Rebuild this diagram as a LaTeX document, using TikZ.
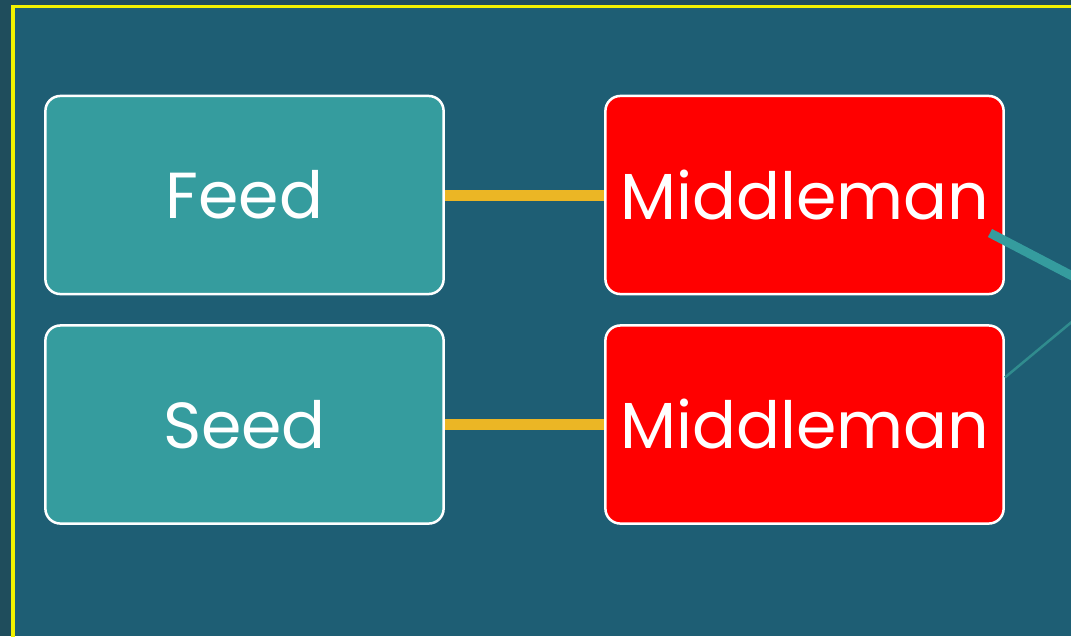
\documentclass[tikz,border=0pt]{standalone}
\usepackage{fontspec}
\setmainfont{Poppins}
\definecolor{slidebg}{HTML}{1E5E74}
\definecolor{outerbg}{HTML}{1F4D5C}
\definecolor{boxteal}{HTML}{359C9E}
\definecolor{linkgold}{HTML}{EBB625}
\definecolor{frameyellow}{HTML}{F2F200}
\tikzset{
  stagebox/.style={draw=white, line width=0.025cm, rounded corners=0.15cm,
    inner sep=0pt, minimum width=3.98cm, minimum height=1.98cm, text=white,
    font=\fontsize{18.5}{22}\selectfont},
  feedbox/.style={stagebox, fill=boxteal},
  middlebox/.style={stagebox, fill=red},
  link/.style={line width=0.11cm, color=linkgold}
}
\begin{document}
\begin{tikzpicture}[x=0.01cm, y=-0.01cm]
		%%%%% START %%%%%
		
		\fill[outerbg] (0, 0) rectangle (1071, 636);
		\useasboundingbox (0, 0) rectangle (1071, 636);
		\fill[slidebg] (13, 6) rectangle (1071, 636);
		\draw[line width=0.03cm, color=frameyellow] (13, 640) -- (13, 6) -- (1075, 6);
		
		\node[feedbox] (feed) at (244.5, 195) {Feed};
		\node[feedbox] (seed) at (244.5, 424.5) {Seed};
		\node[middlebox] (midA) at (804.5, 195) {Middleman};
		\node[middlebox] (midB) at (804.5, 424.5) {Middleman};
		
		\draw[link] (feed) -- (midA);
		\draw[link] (seed) -- (midB);
		
		\coordinate (outA) at (1080, 280);
		\coordinate (outB) at (1080, 315);
		\draw[line width=0.09cm, color=boxteal] (990, 233) -- (outA);
		\draw[line width=0.025cm, color=boxteal!90!black] (midB.east) ++(0, -47) -- (outB);
		
		%%%%% END %%%%%
	\end{tikzpicture}
\end{document}
